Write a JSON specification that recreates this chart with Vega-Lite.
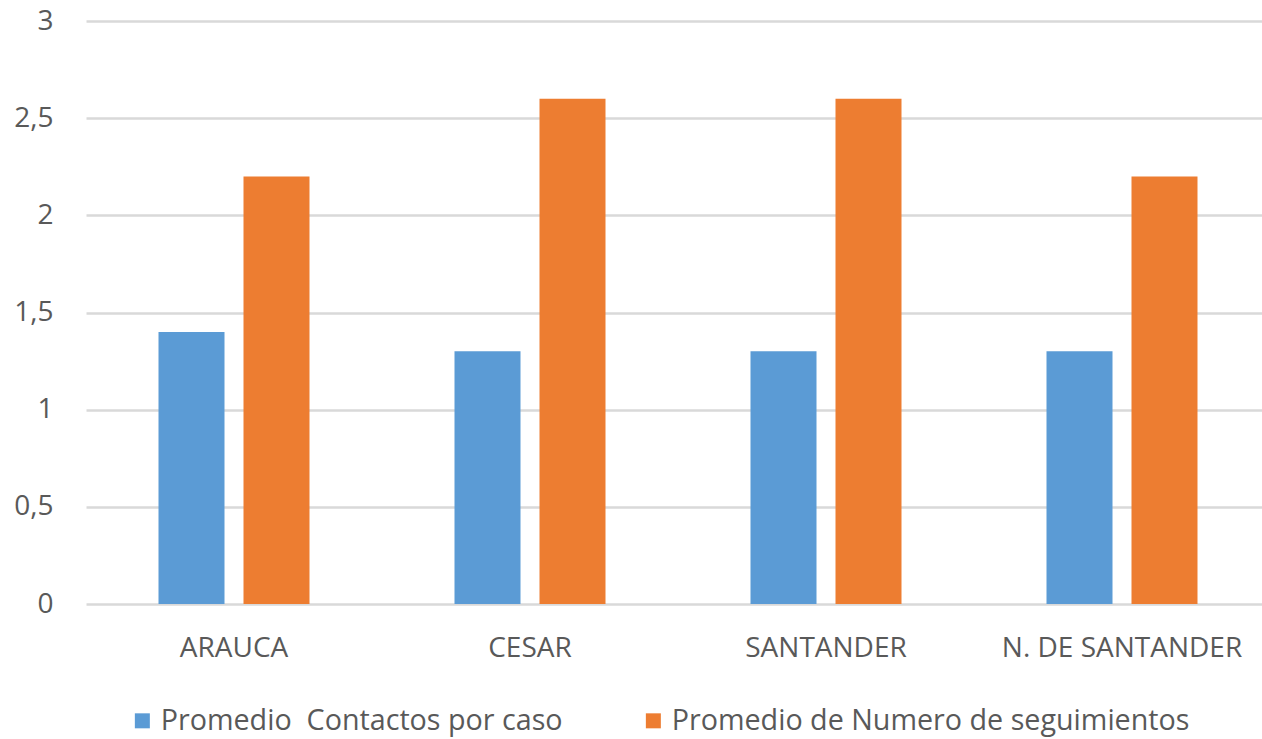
{
  "$schema": "https://vega.github.io/schema/vega-lite/v6.json",
  "width": 1184,
  "height": 583,
  "autosize": {"type": "none"},
  "padding": {"left": 86, "top": 21, "right": 0, "bottom": 135},
  "background": "white",
  "config": {
    "view": {"stroke": null},
    "font": "Open Sans"
  },
  "data": {
    "values": [
      {"departamento": "ARAUCA", "serie": "Promedio\u00a0 Contactos por caso", "valor": 1.4},
      {"departamento": "ARAUCA", "serie": "Promedio de Numero de seguimientos", "valor": 2.2},
      {"departamento": "CESAR", "serie": "Promedio\u00a0 Contactos por caso", "valor": 1.3},
      {"departamento": "CESAR", "serie": "Promedio de Numero de seguimientos", "valor": 2.6},
      {"departamento": "SANTANDER", "serie": "Promedio\u00a0 Contactos por caso", "valor": 1.3},
      {"departamento": "SANTANDER", "serie": "Promedio de Numero de seguimientos", "valor": 2.6},
      {"departamento": "N. DE SANTANDER", "serie": "Promedio\u00a0 Contactos por caso", "valor": 1.3},
      {"departamento": "N. DE SANTANDER", "serie": "Promedio de Numero de seguimientos", "valor": 2.2}
    ]
  },
  "mark": {"type": "bar"},
  "encoding": {
    "x": {
      "field": "departamento",
      "type": "nominal",
      "sort": ["ARAUCA", "CESAR", "SANTANDER", "N. DE SANTANDER"],
      "scale": {"paddingInner": 0, "paddingOuter": 0},
      "axis": {
        "title": null,
        "labelAngle": 0,
        "domain": false,
        "ticks": false,
        "labelFontSize": 28,
        "labelColor": "#595959",
        "labelLimit": 400,
        "labelPadding": 30
      }
    },
    "xOffset": {
      "field": "serie",
      "type": "nominal",
      "sort": ["Promedio\u00a0 Contactos por caso", "Promedio de Numero de seguimientos"],
      "scale": {"paddingInner": 0.2235, "paddingOuter": 0.853}
    },
    "y": {
      "field": "valor",
      "type": "quantitative",
      "scale": {"domain": [0, 3], "nice": false},
      "axis": {
        "title": null,
        "values": [0, 0.5, 1, 1.5, 2, 2.5, 3],
        "labelExpr": "replace(format(datum.value, '~g'), '.', ',')",
        "domain": false,
        "ticks": false,
        "gridColor": "#D9D9D9",
        "gridWidth": 2.5,
        "labelFontSize": 28,
        "labelColor": "#595959",
        "labelPadding": 33
      }
    },
    "color": {
      "field": "serie",
      "type": "nominal",
      "sort": ["Promedio\u00a0 Contactos por caso", "Promedio de Numero de seguimientos"],
      "scale": {
        "domain": ["Promedio\u00a0 Contactos por caso", "Promedio de Numero de seguimientos"],
        "range": ["#5B9BD5", "#ED7D31"]
      },
      "legend": {
        "title": null,
        "orient": "none",
        "direction": "horizontal",
        "legendX": 42,
        "legendY": 685,
        "symbolType": "square",
        "symbolSize": 225,
        "symbolStrokeWidth": 0,
        "labelFontSize": 28.7,
        "labelColor": "#595959",
        "labelLimit": 600,
        "labelOffset": 4,
        "columnPadding": 76
      }
    }
  }
}
